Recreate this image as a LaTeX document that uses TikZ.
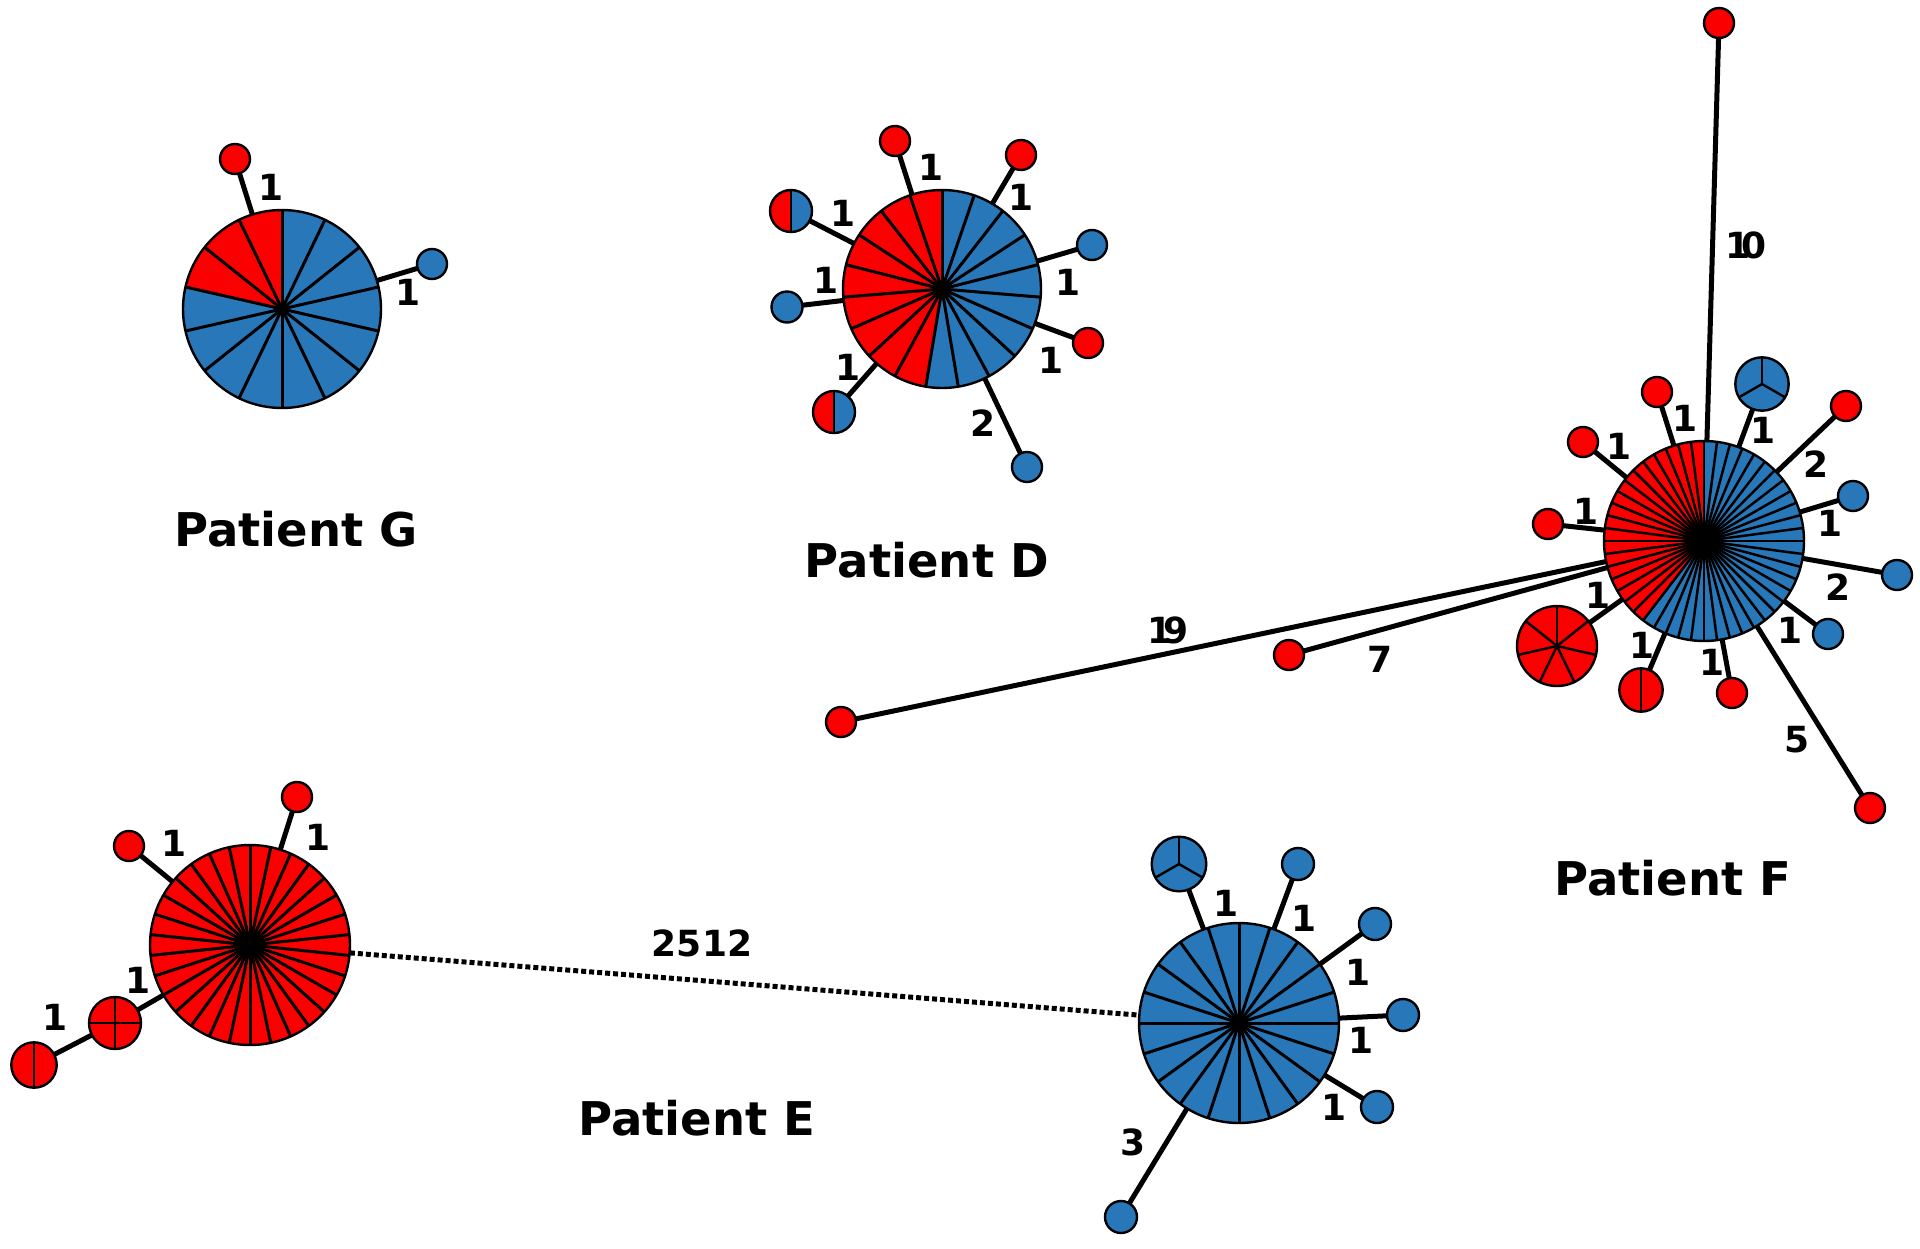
\documentclass[tikz,border=0pt]{standalone}
\usepackage{fontspec}
\setmainfont{DejaVu Sans}
\definecolor{myred}{RGB}{250,0,0}
\definecolor{myblue}{RGB}{40,120,185}
\newcommand{\pienode}[7]{%
  \node[circle, inner sep=0pt, minimum size={2*#4pt}] (#1) at (#2,#3) {};
  \pgfmathsetmacro\pieA{(360/#5)*#6}
  \pgfmathsetmacro\pieS{360/#5}
  \ifnum#6>0 \fill[myred] (#1.center) -- ++(90:#4pt) arc[start angle=90, delta angle=\pieA, radius=#4pt] -- cycle; \fi
  \ifnum#6<#5 \fill[myblue] (#1.center) -- ++(90:#4pt) arc[start angle=90, delta angle=\pieA-360, radius=#4pt] -- cycle; \fi
  \ifnum#5>1 \foreach \k in {1,...,#5} {\draw[line width=#7pt] (#1.center) -- ++({90+\k*\pieS}:#4pt);} \fi
  \draw[line width=2.4pt] (#1.center) circle[radius=#4pt];
}
\begin{document}
\begin{tikzpicture}[x=1pt,y=-1pt,
  lab/.style={font=\bfseries\fontsize{36}{36}\selectfont, inner sep=0pt},
  title/.style={font=\bfseries\fontsize{46.5}{46.5}\selectfont, inner sep=0pt},
  edge/.style={line width=5pt},
  dotedge/.style={line width=5pt, dash pattern=on 5pt off 3pt}]
\useasboundingbox (0,0) rectangle (1920,1248);
\fill[white] (0,0) rectangle (1920,1248);

% ---------- Patient G ----------
\pienode{G}{282}{309}{99}{14}{3}{3}
\pienode{g1}{235}{159}{15}{1}{1}{2}
\pienode{g2}{432}{264}{15}{1}{0}{2}
\draw[edge] (G) -- (g1);
\draw[edge] (G) -- (g2);
\node[lab] (lg1) at (271,187) {1};
\node[lab] (lg2) at (408,292) {1};
\node[title] (tG) at (296,529) {Patient G};

% ---------- Patient D ----------
\pienode{D}{942}{289}{99}{19}{9}{3}
\pienode{d1}{895}{141}{15}{1}{1}{2}
\pienode{d2}{1021}{155}{15}{1}{1}{2}
\pienode{d3}{1092}{245}{15}{1}{0}{2}
\pienode{d4}{1088}{343}{15}{1}{1}{2}
\pienode{d5}{1027}{467}{15}{1}{0}{2}
\pienode{d6}{834}{412}{21}{2}{1}{2.4}
\pienode{d7}{787}{307}{15.5}{1}{0}{2}
\pienode{d8}{791}{211}{21}{2}{1}{2.4}
\foreach \n in {d1,d2,d3,d4,d5,d6,d7,d8} {\draw[edge] (D) -- (\n);}
\node[lab] (ld1) at (931,167) {1};
\node[lab] (ld2) at (1021,197) {1};
\node[lab] (ld3) at (1068,282) {1};
\node[lab] (ld4) at (1051,360) {1};
\node[lab] (ld5) at (983,423) {2};
\node[lab] (ld6) at (848,367) {1};
\node[lab] (ld7) at (826,280) {1};
\node[lab] (ld8) at (843,213) {1};
\node[title] (tD) at (927,560) {Patient D};

% ---------- Patient F ----------
\pienode{F}{1704}{541}{100}{48}{19}{2.5}
\pienode{f1}{1657}{392}{15}{1}{1}{2}
\pienode{f2}{1583}{442}{15}{1}{1}{2}
\pienode{f3}{1548}{524}{15}{1}{1}{2}
\pienode{f4}{1557}{646}{40}{7}{7}{2.4}
\pienode{f5}{1641}{690}{21.7}{2}{2}{2.4}
\pienode{f6}{1732}{693}{15}{1}{1}{2}
\pienode{f7}{1762}{384}{26.7}{3}{0}{2.4}
\pienode{f8}{1846}{406}{15}{1}{1}{2}
\pienode{f9}{1853}{496}{15}{1}{0}{2}
\pienode{f10}{1897}{575}{15}{1}{0}{2}
\pienode{f11}{1828}{634}{15}{1}{0}{2}
\pienode{f12}{1870}{808}{15}{1}{1}{2}
\pienode{f13}{1719}{23}{15}{1}{1}{2}
\pienode{f14}{841}{722}{15}{1}{1}{2}
\pienode{f15}{1289}{655}{15}{1}{1}{2}
\foreach \n in {f1,f2,f3,f4,f5,f6,f7,f8,f9,f10,f11,f12,f13,f14,f15} {\draw[edge] (F) -- (\n);}
\node[lab] (lf1) at (1685,418) {1};
\node[lab] (lf2) at (1619,446) {1};
\node[lab] (lf3) at (1586,511) {1};
\node[lab] (lf4) at (1598,595) {1};
\node[lab] (lf5) at (1642,645) {1};
\node[lab] (lf6) at (1712,662) {1};
\node[lab] (lf7) at (1763,430) {1};
\node[lab] (lf8) at (1816,464) {2};
\node[lab] (lf9) at (1830,523) {1};
\node[lab] (lf10) at (1838,587) {2};
\node[lab] (lf11) at (1790,630) {1};
\node[lab] (lf12) at (1797,740) {5};
\node[lab] (lf13) at (1746,245) {1\kern-0.25em 0};
\node[lab] (lf14) at (1168,630) {1\kern-0.25em 9};
\node[lab] (lf15) at (1380,659) {7};
\node[title] (tF) at (1673,878) {Patient F};

% ---------- Patient E (red) ----------
\pienode{ER}{250}{945}{100}{30}{30}{3}
\pienode{e1}{129}{846}{15}{1}{1}{2}
\pienode{e2}{297}{797}{15}{1}{1}{2}
\pienode{e3}{115}{1023}{26}{4}{4}{2.4}
\pienode{e4}{34}{1065}{22.7}{2}{2}{2.4}
\draw[edge] (ER) -- (e1);
\draw[edge] (ER) -- (e2);
\draw[edge] (ER) -- (e3);
\draw[edge] (e3) -- (e4);
\node[lab] (le1) at (174,843) {1};
\node[lab] (le2) at (318,837) {1};
\node[lab] (le3) at (138,980) {1};
\node[lab] (le4) at (55,1017) {1};
\node[title] (tE) at (697,1118) {Patient E};

% ---------- Patient E (blue) ----------
\pienode{EB}{1239}{1023}{100}{20}{0}{3}
\pienode{b1}{1179}{864}{27.3}{3}{0}{2.4}
\pienode{b2}{1298}{864}{16}{1}{0}{2}
\pienode{b3}{1375}{924}{16}{1}{0}{2}
\pienode{b4}{1403}{1015}{16}{1}{0}{2}
\pienode{b5}{1377}{1107}{16}{1}{0}{2}
\pienode{b6}{1121}{1217}{16}{1}{0}{2}
\foreach \n in {b1,b2,b3,b4,b5,b6} {\draw[edge] (EB) -- (\n);}
\node[lab] (lb1) at (1226,903) {1};
\node[lab] (lb2) at (1304,918) {1};
\node[lab] (lb3) at (1358,972) {1};
\node[lab] (lb4) at (1361,1040) {1};
\node[lab] (lb5) at (1334,1107) {1};
\node[lab] (lb6) at (1133,1142) {3};

% ---------- link ----------
\draw[dotedge] (ER) -- (EB);
\node[lab] (l2512) at (702,943) {2512};
\end{tikzpicture}
\end{document}
